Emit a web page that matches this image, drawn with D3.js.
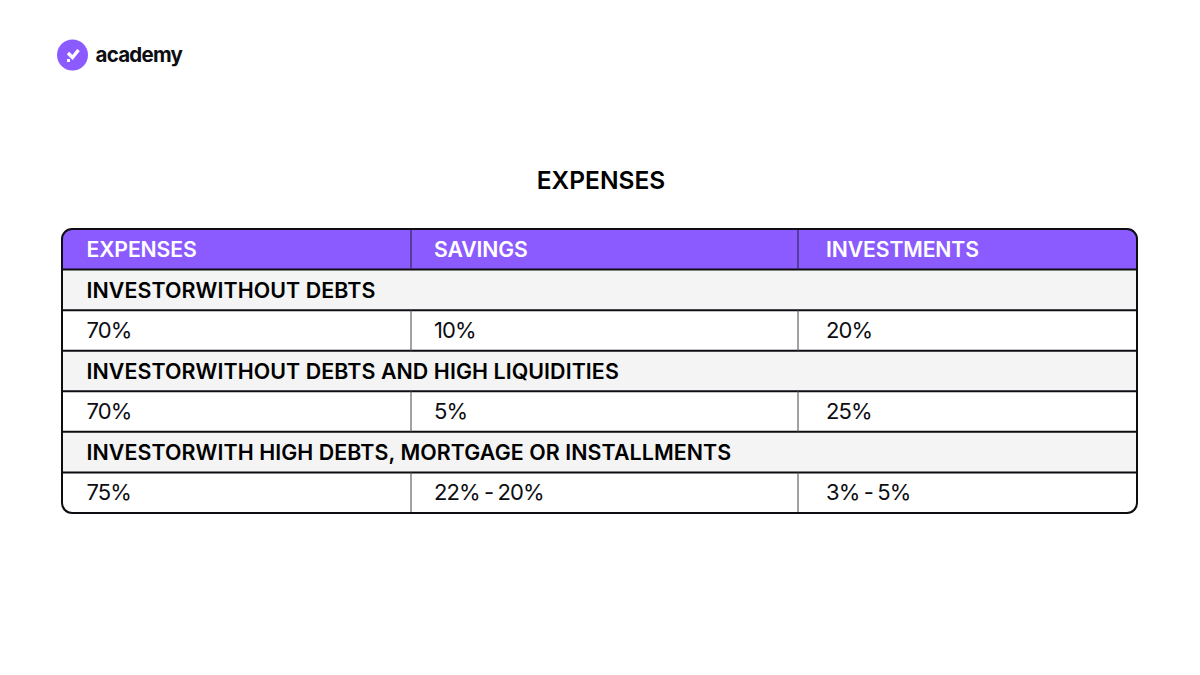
<!DOCTYPE html>
<html>
<head>
<meta charset="utf-8">
<script src="https://cdn.jsdelivr.net/npm/d3@7"></script>
<style>
  html, body { margin: 0; padding: 0; background: #fff; }
  svg { display: block; }
  text { font-family: Inter, "Noto Sans", sans-serif; }
</style>
</head>
<body>
<svg id="chart" width="1200" height="675"></svg>
<script>
// table content
const chartTitle = "EXPENSES";
const brand = "academy";
const columns = ["EXPENSES", "SAVINGS", "INVESTMENTS"];
const profiles = [
    "INVESTORWITHOUT DEBTS",
    "INVESTORWITHOUT DEBTS AND HIGH LIQUIDITIES",
    "INVESTORWITH HIGH DEBTS, MORTGAGE OR INSTALLMENTS"
];
const expenses = ["70%", "70%", "75%"];
const savings = ["10%", "5%", "22% - 20%"];
const investments = ["20%", "25%", "3% - 5%"];

const purple = "#8c5bff";
const ink = "#0d0d12";
const svg = d3.select("#chart");

// row ids in drawing order: header, then a band + a value row per profile
const rowIds = ["head"];
profiles.forEach((p, i) => rowIds.push("band" + i, "row" + i));

const tLeft = 62, tRight = 1137, tTop = 229, tBottom = 513;
const y = d3.scaleBand().domain(rowIds).range([tTop, tBottom]);
const xEdges = d3.scaleOrdinal().domain(columns).range([tLeft, 411, 798]);
const textX = d3.scaleOrdinal().domain(columns).range([86.5, 434, 826]);

// logo
const logo = svg.append("g").attr("transform", "translate(72.5,55)");
logo.append("circle").attr("r", 15.5).attr("fill", purple);
logo.append("path")
    .attr("d", "M-4.5,-2 L0,2.5 L6,-5")
    .attr("fill", "none")
    .attr("stroke", "#fff")
    .attr("stroke-width", 3.4);
logo.append("rect").attr("x", -5.5).attr("y", 4).attr("width", 3).attr("height", 3).attr("fill", "#fff");

svg.append("text")
    .attr("x", 95.5)
    .attr("y", 61.5)
    .attr("font-size", 20.5)
    .attr("font-weight", 700)
    .attr("letter-spacing", -0.75)
    .attr("fill", ink)
    .text(brand);

svg.append("text")
    .attr("x", 601)
    .attr("y", 189)
    .attr("text-anchor", "middle")
    .attr("font-size", 24.5)
    .attr("font-weight", 600)
    .attr("fill", "#000")
    .text(chartTitle);

// clip the fills to the rounded table outline
svg.append("clipPath").attr("id", "tableClip")
    .append("rect")
    .attr("x", tLeft).attr("y", tTop)
    .attr("width", tRight - tLeft).attr("height", tBottom - tTop)
    .attr("rx", 10);

const fills = svg.append("g").attr("clip-path", "url(#tableClip)");
fills.selectAll("rect")
    .data(rowIds.filter(r => r === "head" || r.startsWith("band")))
    .enter().append("rect")
    .attr("x", tLeft)
    .attr("y", d => y(d))
    .attr("width", tRight - tLeft)
    .attr("height", y.bandwidth())
    .attr("fill", d => d === "head" ? purple : "#f4f4f4");

// horizontal rules
svg.append("g").selectAll("line")
    .data(rowIds.slice(1))
    .enter().append("line")
    .attr("x1", tLeft).attr("x2", tRight)
    .attr("y1", d => y(d)).attr("y2", d => y(d))
    .attr("stroke", ink)
    .attr("stroke-width", 2);

// column rules only on header and value rows
const splitRows = rowIds.filter(r => !r.startsWith("band"));
svg.append("g").selectAll("g")
    .data(splitRows)
    .enter().append("g")
    .selectAll("line")
    .data(r => columns.slice(1).map(c => ({ r, c })))
    .enter().append("line")
    .attr("x1", d => xEdges(d.c)).attr("x2", d => xEdges(d.c))
    .attr("y1", d => y(d.r)).attr("y2", d => y(d.r) + y.bandwidth())
    .attr("stroke", d => d.r === "head" ? "#2c2350" : "#55555a")
    .attr("stroke-width", 1.1);

// outline
svg.append("rect")
    .attr("x", tLeft).attr("y", tTop)
    .attr("width", tRight - tLeft).attr("height", tBottom - tTop)
    .attr("rx", 10)
    .attr("fill", "none")
    .attr("stroke", ink)
    .attr("stroke-width", 2);

const mid = r => y(r) + y.bandwidth() / 2;
const baseShift = 7.5;

// header labels
svg.append("g").selectAll("text")
    .data(columns)
    .enter().append("text")
    .attr("x", d => textX(d))
    .attr("y", mid("head") + baseShift)
    .attr("font-size", 21.2)
    .attr("font-weight", 600)
    .attr("letter-spacing", -0.12)
    .attr("fill", "#fff")
    .text(d => d);

// band labels
svg.append("g").selectAll("text")
    .data(profiles)
    .enter().append("text")
    .attr("x", textX(columns[0]))
    .attr("y", (d, i) => mid("band" + i) + baseShift + 0.5)
    .attr("font-size", 21.4)
    .attr("font-weight", 600)
    .attr("letter-spacing", 0.08)
    .attr("fill", "#000")
    .text(d => d);

// value rows
[expenses, savings, investments].forEach((vals, c) => {
    svg.append("g").selectAll("text")
        .data(vals)
        .enter().append("text")
        .attr("x", textX(columns[c]))
        .attr("y", (d, i) => mid("row" + i) + baseShift + 0.2)
        .attr("font-size", 22)
        .attr("font-weight", 400)
        .attr("letter-spacing", -0.9)
        .attr("word-spacing", -1)
        .attr("fill", ink)
        .text(d => d);
});
</script>
</body>
</html>
